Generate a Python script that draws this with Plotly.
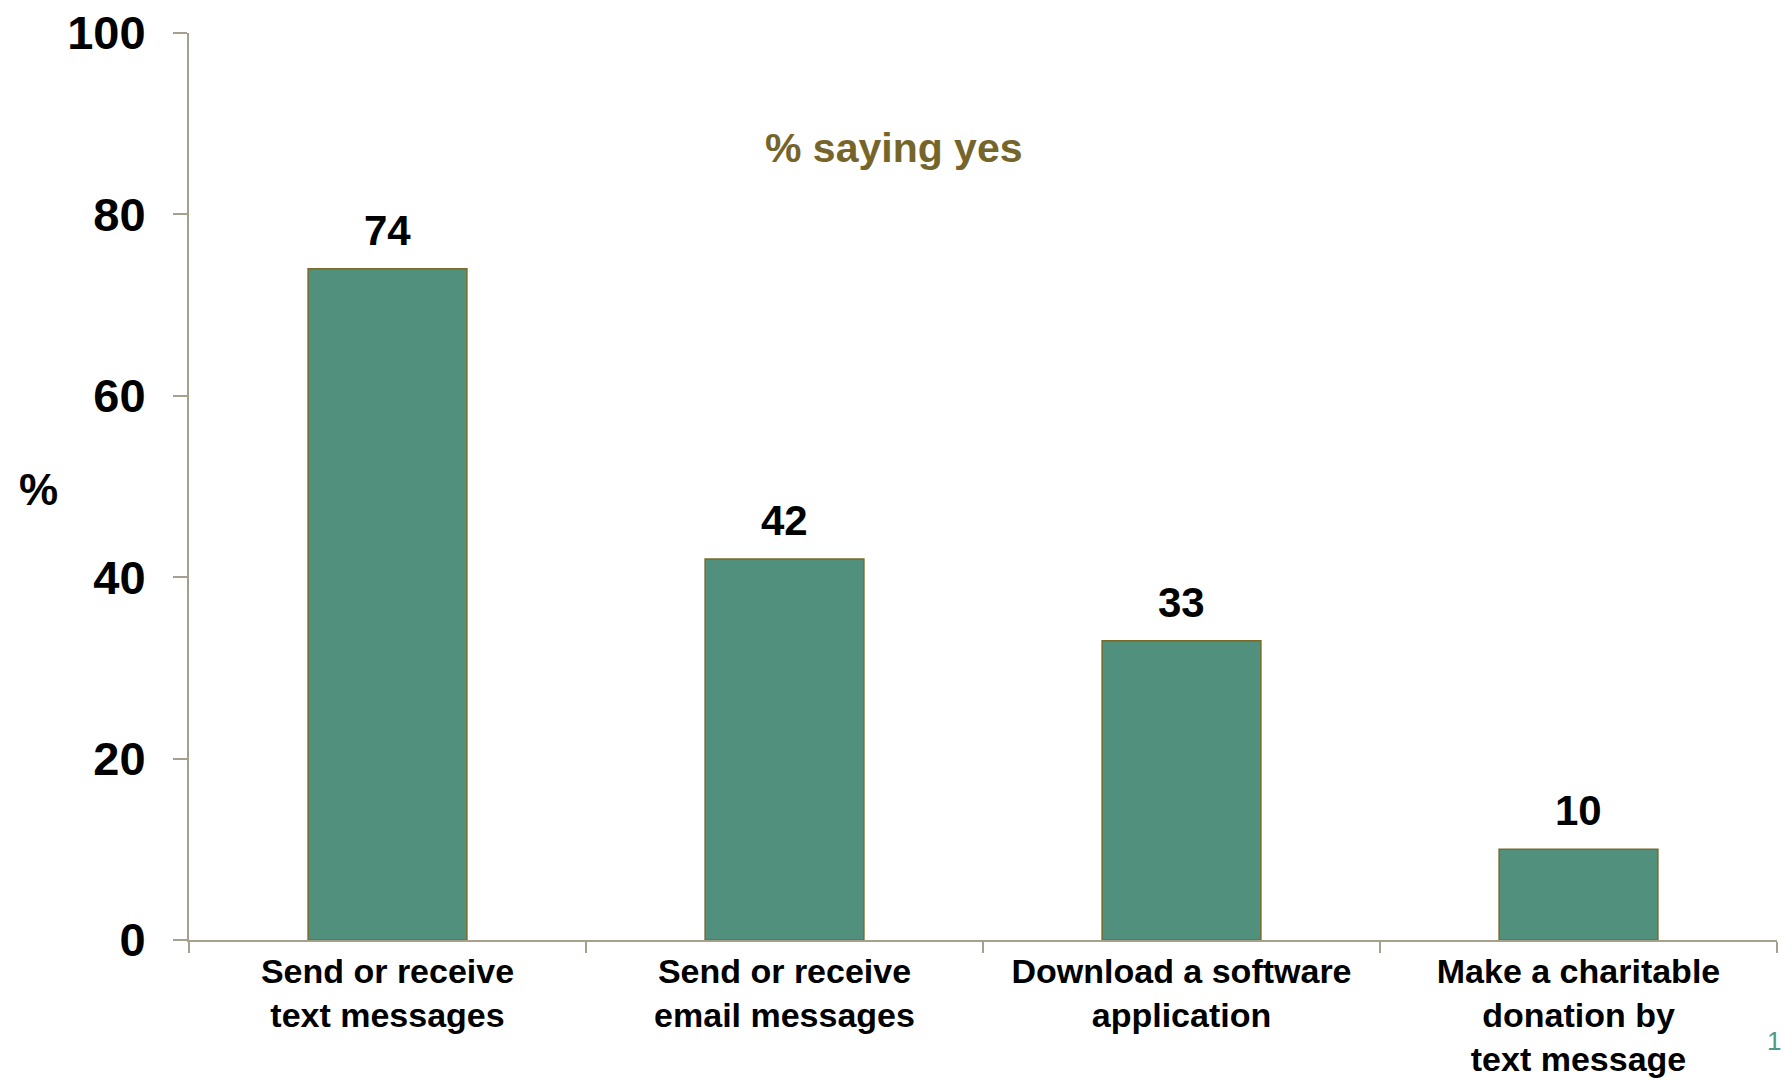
import plotly.graph_objects as go

categories = ["Send or receive<br>text messages", "Send or receive<br>email messages",
              "Download a software<br>application", "Make a charitable<br>donation by<br>text message"]
values = [74, 42, 33, 10]
y_ticks = [0, 20, 40, 60, 80, 100]

BAR = "#50907d"
EDGE = "#7a6a2a"
AXIS = "#a8a08e"
FONT = "Liberation Sans, Arial, sans-serif"

fig = go.Figure()
fig.add_trace(go.Bar(
    x=categories, y=values, width=0.4,
    marker=dict(color=BAR, line=dict(color=EDGE, width=1.5)),
    hoverinfo="skip", showlegend=False,
))

for c, v in zip(categories, values):
    fig.add_annotation(x=c, y=v, text=str(v), showarrow=False, xref="x", yref="y",
                       yanchor="bottom", yshift=13,
                       font=dict(family=FONT, size=42, color="black", weight="bold"))

fig.add_annotation(text="% saying yes", xref="paper", yref="paper", x=0.444, y=0.873,
                   xanchor="center", yanchor="middle", showarrow=False,
                   font=dict(family=FONT, size=41, color="#76652a", weight="bold"))
fig.add_annotation(text="%", xref="paper", yref="paper", x=-0.095, y=0.497,
                   xanchor="center", yanchor="middle", showarrow=False,
                   font=dict(family=FONT, size=44, color="black", weight="bold"))
fig.add_annotation(text="1", xref="paper", yref="paper", x=1.004, y=-0.111,
                   xanchor="right", yanchor="middle", showarrow=False,
                   font=dict(family=FONT, size=26, color="#4f9a86"))

fig.update_layout(
    width=1784, height=1081,
    margin=dict(l=189, r=7, t=33, b=141),
    plot_bgcolor="white", paper_bgcolor="white",
    xaxis=dict(showline=True, linecolor=AXIS, linewidth=2, ticks="outside",
               tickson="boundaries", ticklen=11, tickcolor=AXIS, tickwidth=2,
               automargin=False,
               tickfont=dict(family=FONT, size=34, color="black", weight="bold"),
               showgrid=False, zeroline=False),
    yaxis=dict(range=[0, 100], tickvals=y_ticks, showline=True, linecolor=AXIS, linewidth=2,
               ticks="outside", ticklen=14, tickcolor=AXIS, tickwidth=2,
               ticklabelstandoff=18, automargin=False,
               tickfont=dict(family=FONT, size=47, color="black", weight="bold"),
               showgrid=False, zeroline=False),
)

fig.write_html("out.html", config={"displayModeBar": False},
               post_script="document.body.style.margin='0';document.body.style.overflow='hidden';")
